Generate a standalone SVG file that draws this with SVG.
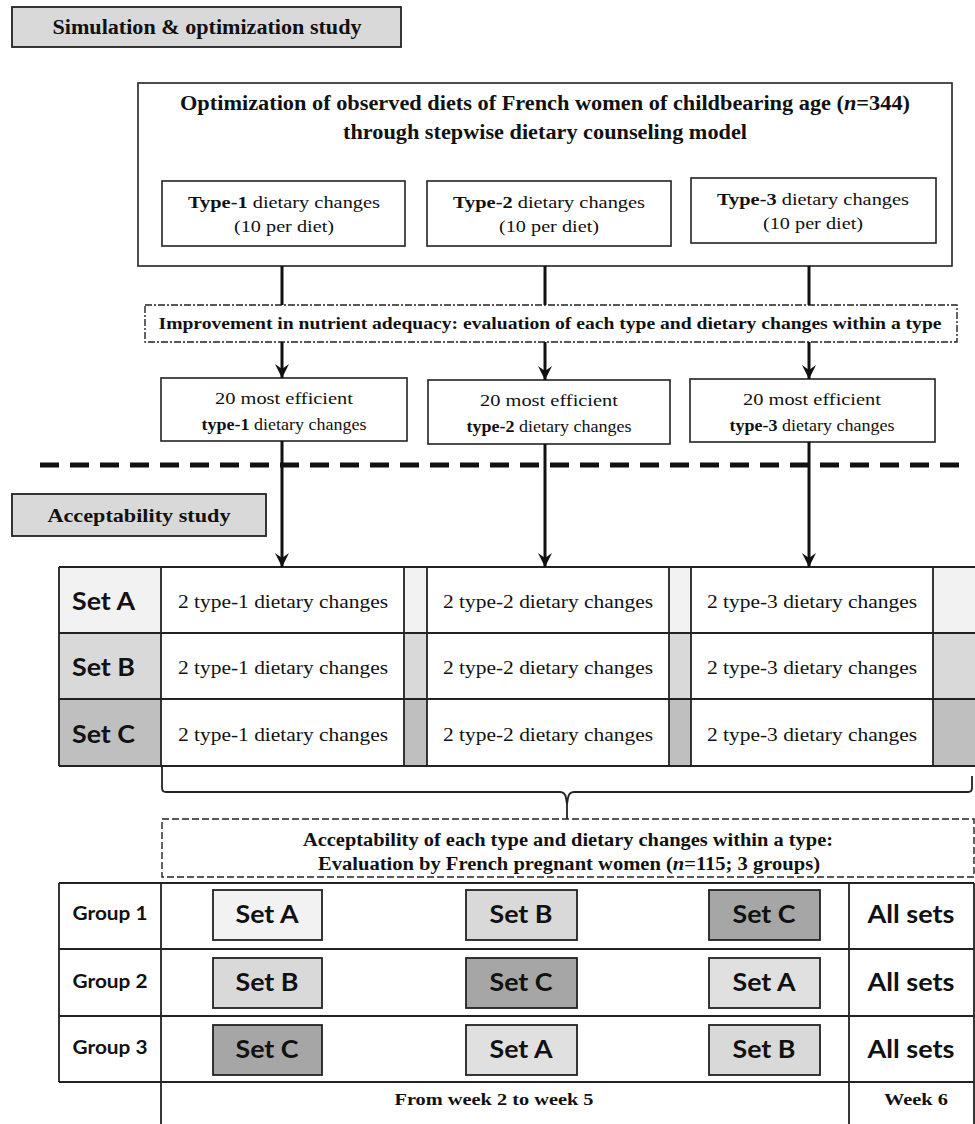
<svg xmlns="http://www.w3.org/2000/svg" width="975" height="1124" viewBox="0 0 975 1124">
<style>
.bg{fill:#fff}
.box{fill:#fff;stroke:#222;stroke-width:1.6}
.hdr{fill:#d9d9d9;stroke:#222;stroke-width:1.8}
.dash{fill:#fff;stroke:#222;stroke-width:1.4;stroke-dasharray:7 2 2 2}
.dash2{fill:#fff;stroke:#222;stroke-width:1.4;stroke-dasharray:7 3}
.ln{stroke:#222;stroke-width:1.8;fill:none}
.con{stroke:#111;stroke-width:3;fill:none}
.sb{font-family:"Liberation Serif","Times New Roman",serif;font-weight:bold;fill:#111}
.sr{font-family:"Liberation Serif","Times New Roman",serif;fill:#111}
.ss{font-family:Lato,"Liberation Sans",sans-serif;font-weight:bold;fill:#111}
.a{fill:#f2f2f2}.b{fill:#d9d9d9}.c{fill:#bfbfbf}
.ga{fill:#f2f2f2;stroke:#222;stroke-width:1.8}
.gb{fill:#d9d9d9;stroke:#222;stroke-width:1.8}
.gc{fill:#a6a6a6;stroke:#222;stroke-width:1.8}
.ga2{fill:#e0e0e0;stroke:#222;stroke-width:1.8}
</style>
<defs>
<marker id="arr" markerUnits="userSpaceOnUse" markerWidth="16" markerHeight="14" refX="14" refY="7" orient="auto" viewBox="0 0 16 14">
<path d="M0,0 L14,7 L0,14 L5,7 Z" fill="#111"/>
</marker>
</defs>
<rect class="bg" x="0" y="0" width="975" height="1124"/>

<g id="hdr-sim">
<rect class="hdr" x="12" y="7" width="389" height="40"/>
<text class="sb" x="207" y="34" font-size="20" text-anchor="middle" textLength="309" lengthAdjust="spacingAndGlyphs">Simulation &amp; optimization study</text>
</g>

<g id="opt-box">
<rect class="box" x="138" y="83" width="814" height="183"/>
<text class="sb" x="545" y="110" font-size="20.5" text-anchor="middle" textLength="730" lengthAdjust="spacingAndGlyphs">Optimization of observed diets of French women of childbearing age (<tspan font-style="italic">n</tspan>=344)</text>
<text class="sb" x="545" y="139" font-size="20.5" text-anchor="middle" textLength="404" lengthAdjust="spacingAndGlyphs">through stepwise dietary counseling model</text>
</g>

<g id="type1">
<rect class="box" x="162" y="181" width="243" height="65"/>
<text class="sr" x="284" y="208" font-size="17" text-anchor="middle" textLength="192" lengthAdjust="spacingAndGlyphs"><tspan font-weight="bold">Type-1</tspan> dietary changes</text>
<text class="sr" x="284" y="232" font-size="17" text-anchor="middle" textLength="100" lengthAdjust="spacingAndGlyphs">(10 per diet)</text>
</g>
<g id="type2">
<rect class="box" x="427" y="181" width="244" height="65"/>
<text class="sr" x="549" y="208" font-size="17" text-anchor="middle" textLength="192" lengthAdjust="spacingAndGlyphs"><tspan font-weight="bold">Type-2</tspan> dietary changes</text>
<text class="sr" x="549" y="232" font-size="17" text-anchor="middle" textLength="100" lengthAdjust="spacingAndGlyphs">(10 per diet)</text>
</g>
<g id="type3">
<rect class="box" x="691" y="178" width="245" height="65"/>
<text class="sr" x="813" y="205" font-size="17" text-anchor="middle" textLength="192" lengthAdjust="spacingAndGlyphs"><tspan font-weight="bold">Type-3</tspan> dietary changes</text>
<text class="sr" x="813" y="229" font-size="17" text-anchor="middle" textLength="100" lengthAdjust="spacingAndGlyphs">(10 per diet)</text>
</g>

<g id="improve">
<rect class="dash" x="145" y="305" width="812" height="37"/>
<text class="sb" x="550" y="329" font-size="16" text-anchor="middle" textLength="783" lengthAdjust="spacingAndGlyphs">Improvement in nutrient adequacy: evaluation of each type and dietary changes within a type</text>
</g>

<g id="eff1">
<rect class="box" x="161" y="378" width="246" height="63"/>
<text class="sr" x="284" y="404" font-size="17" text-anchor="middle" textLength="138" lengthAdjust="spacingAndGlyphs">20 most efficient</text>
<text class="sr" x="284" y="430" font-size="17" text-anchor="middle" textLength="165" lengthAdjust="spacingAndGlyphs"><tspan font-weight="bold">type-1</tspan> dietary changes</text>
</g>
<g id="eff2">
<rect class="box" x="428" y="380" width="242" height="64"/>
<text class="sr" x="549" y="406" font-size="17" text-anchor="middle" textLength="138" lengthAdjust="spacingAndGlyphs">20 most efficient</text>
<text class="sr" x="549" y="432" font-size="17" text-anchor="middle" textLength="165" lengthAdjust="spacingAndGlyphs"><tspan font-weight="bold">type-2</tspan> dietary changes</text>
</g>
<g id="eff3">
<rect class="box" x="690" y="379" width="245" height="63"/>
<text class="sr" x="812" y="405" font-size="17" text-anchor="middle" textLength="138" lengthAdjust="spacingAndGlyphs">20 most efficient</text>
<text class="sr" x="812" y="431" font-size="17" text-anchor="middle" textLength="165" lengthAdjust="spacingAndGlyphs"><tspan font-weight="bold">type-3</tspan> dietary changes</text>
</g>

<g id="divider">
<line x1="40" y1="465" x2="966" y2="465" stroke="#111" stroke-width="5" stroke-dasharray="19 11"/>
</g>

<g id="hdr-acc">
<rect class="hdr" x="12" y="494" width="254" height="42"/>
<text class="sb" x="139" y="522" font-size="19" text-anchor="middle" textLength="183" lengthAdjust="spacingAndGlyphs">Acceptability study</text>
</g>

<g id="sets-table">
<rect class="a" x="59" y="567" width="102" height="66"/>
<rect class="b" x="59" y="633" width="102" height="66"/>
<rect class="c" x="59" y="699" width="102" height="67"/>
<rect class="a" x="404" y="567" width="23" height="66"/>
<rect class="b" x="404" y="633" width="23" height="66"/>
<rect class="c" x="404" y="699" width="23" height="67"/>
<rect class="a" x="669" y="567" width="22" height="66"/>
<rect class="b" x="669" y="633" width="22" height="66"/>
<rect class="c" x="669" y="699" width="22" height="67"/>
<rect class="a" x="933" y="567" width="42" height="66"/>
<rect class="b" x="933" y="633" width="42" height="66"/>
<rect class="c" x="933" y="699" width="42" height="67"/>
<path class="ln" d="M59,567 H975 M59,633 H975 M59,699 H975 M59,766 H975 M59,567 V766 M161,567 V766 M404,567 V766 M427,567 V766 M669,567 V766 M691,567 V766 M933,567 V766"/>
<path class="ln" stroke-width="2.6" d="M161,766 H404 M427,766 H669 M691,766 H933 M691,633 H933"/>
<text class="ss" x="72" y="610" font-size="24" textLength="63" lengthAdjust="spacingAndGlyphs">Set A</text>
<text class="ss" x="72" y="676" font-size="24" textLength="63" lengthAdjust="spacingAndGlyphs">Set B</text>
<text class="ss" x="72" y="743" font-size="24" textLength="63" lengthAdjust="spacingAndGlyphs">Set C</text>
<text class="sr" x="283" y="608" font-size="19" text-anchor="middle" textLength="210" lengthAdjust="spacingAndGlyphs">2 type-1 dietary changes</text>
<text class="sr" x="283" y="674" font-size="19" text-anchor="middle" textLength="210" lengthAdjust="spacingAndGlyphs">2 type-1 dietary changes</text>
<text class="sr" x="283" y="741" font-size="19" text-anchor="middle" textLength="210" lengthAdjust="spacingAndGlyphs">2 type-1 dietary changes</text>
<text class="sr" x="548" y="608" font-size="19" text-anchor="middle" textLength="210" lengthAdjust="spacingAndGlyphs">2 type-2 dietary changes</text>
<text class="sr" x="548" y="674" font-size="19" text-anchor="middle" textLength="210" lengthAdjust="spacingAndGlyphs">2 type-2 dietary changes</text>
<text class="sr" x="548" y="741" font-size="19" text-anchor="middle" textLength="210" lengthAdjust="spacingAndGlyphs">2 type-2 dietary changes</text>
<text class="sr" x="812" y="608" font-size="19" text-anchor="middle" textLength="210" lengthAdjust="spacingAndGlyphs">2 type-3 dietary changes</text>
<text class="sr" x="812" y="674" font-size="19" text-anchor="middle" textLength="210" lengthAdjust="spacingAndGlyphs">2 type-3 dietary changes</text>
<text class="sr" x="812" y="741" font-size="19" text-anchor="middle" textLength="210" lengthAdjust="spacingAndGlyphs">2 type-3 dietary changes</text>
</g>

<g id="accept">
<rect class="dash2" x="162" y="819" width="812" height="58"/>
<text class="sb" x="568" y="846" font-size="18" text-anchor="middle" textLength="530" lengthAdjust="spacingAndGlyphs">Acceptability of each type and dietary changes within a type:</text>
<text class="sb" x="569" y="870" font-size="18" text-anchor="middle" textLength="502" lengthAdjust="spacingAndGlyphs">Evaluation by French pregnant women (<tspan font-style="italic">n</tspan>=115; 3 groups)</text>
</g>

<g id="groups-table">
<path class="ln" d="M59,883 H974 M59,949 H974 M59,1016 H974 M59,1082 H974 M59,883 V1082 M161,883 V1124 M849,883 V1124 M974,883 V1124"/>
<text class="ss" x="110" y="920" font-size="19" text-anchor="middle" textLength="75" lengthAdjust="spacingAndGlyphs">Group 1</text>
<text class="ss" x="110" y="988" font-size="19" text-anchor="middle" textLength="75" lengthAdjust="spacingAndGlyphs">Group 2</text>
<text class="ss" x="110" y="1054" font-size="19" text-anchor="middle" textLength="75" lengthAdjust="spacingAndGlyphs">Group 3</text>
<rect class="ga" x="213" y="890" width="109" height="50"/>
<rect class="gb" x="466" y="890" width="111" height="50"/>
<rect class="gc" x="709" y="890" width="111" height="50"/>
<rect class="gb" x="213" y="958" width="109" height="50"/>
<rect class="gc" x="466" y="958" width="111" height="50"/>
<rect class="ga2" x="709" y="958" width="111" height="50"/>
<rect class="gc" x="213" y="1025" width="109" height="50"/>
<rect class="ga2" x="466" y="1025" width="111" height="50"/>
<rect class="gb" x="709" y="1025" width="111" height="50"/>
<text class="ss" x="267" y="923" font-size="24" text-anchor="middle" textLength="63" lengthAdjust="spacingAndGlyphs">Set A</text>
<text class="ss" x="521" y="923" font-size="24" text-anchor="middle" textLength="63" lengthAdjust="spacingAndGlyphs">Set B</text>
<text class="ss" x="764" y="923" font-size="24" text-anchor="middle" textLength="63" lengthAdjust="spacingAndGlyphs">Set C</text>
<text class="ss" x="267" y="991" font-size="24" text-anchor="middle" textLength="63" lengthAdjust="spacingAndGlyphs">Set B</text>
<text class="ss" x="521" y="991" font-size="24" text-anchor="middle" textLength="63" lengthAdjust="spacingAndGlyphs">Set C</text>
<text class="ss" x="764" y="991" font-size="24" text-anchor="middle" textLength="63" lengthAdjust="spacingAndGlyphs">Set A</text>
<text class="ss" x="267" y="1058" font-size="24" text-anchor="middle" textLength="63" lengthAdjust="spacingAndGlyphs">Set C</text>
<text class="ss" x="521" y="1058" font-size="24" text-anchor="middle" textLength="63" lengthAdjust="spacingAndGlyphs">Set A</text>
<text class="ss" x="764" y="1058" font-size="24" text-anchor="middle" textLength="63" lengthAdjust="spacingAndGlyphs">Set B</text>
<text class="ss" x="911" y="923" font-size="24" text-anchor="middle" textLength="87" lengthAdjust="spacingAndGlyphs">All sets</text>
<text class="ss" x="911" y="991" font-size="24" text-anchor="middle" textLength="87" lengthAdjust="spacingAndGlyphs">All sets</text>
<text class="ss" x="911" y="1058" font-size="24" text-anchor="middle" textLength="87" lengthAdjust="spacingAndGlyphs">All sets</text>
<text class="sb" x="494" y="1105" font-size="17" text-anchor="middle" textLength="199" lengthAdjust="spacingAndGlyphs">From week 2 to week 5</text>
<text class="sb" x="916" y="1105" font-size="17" text-anchor="middle" textLength="64" lengthAdjust="spacingAndGlyphs">Week 6</text>
</g>

<g id="connectors">
<line class="con" x1="282" y1="266" x2="282" y2="305"/>
<line class="con" x1="545" y1="266" x2="545" y2="305"/>
<line class="con" x1="809" y1="266" x2="809" y2="305"/>
<line class="con" x1="282" y1="342" x2="282" y2="378" marker-end="url(#arr)"/>
<line class="con" x1="545" y1="342" x2="545" y2="380" marker-end="url(#arr)"/>
<line class="con" x1="809" y1="342" x2="809" y2="379" marker-end="url(#arr)"/>
<line class="con" x1="282" y1="441" x2="282" y2="567" marker-end="url(#arr)"/>
<line class="con" x1="545" y1="444" x2="545" y2="567" marker-end="url(#arr)"/>
<line class="con" x1="809" y1="442" x2="809" y2="567" marker-end="url(#arr)"/>
<path class="ln" stroke-width="1.6" d="M162,767 V788 Q162,792 166,792 H560 Q565,792 566,798 L567,804 V819 M567,804 L568,798 Q569,792 574,792 H968 Q972,792 972,788 V776"/>
</g>
</svg>
